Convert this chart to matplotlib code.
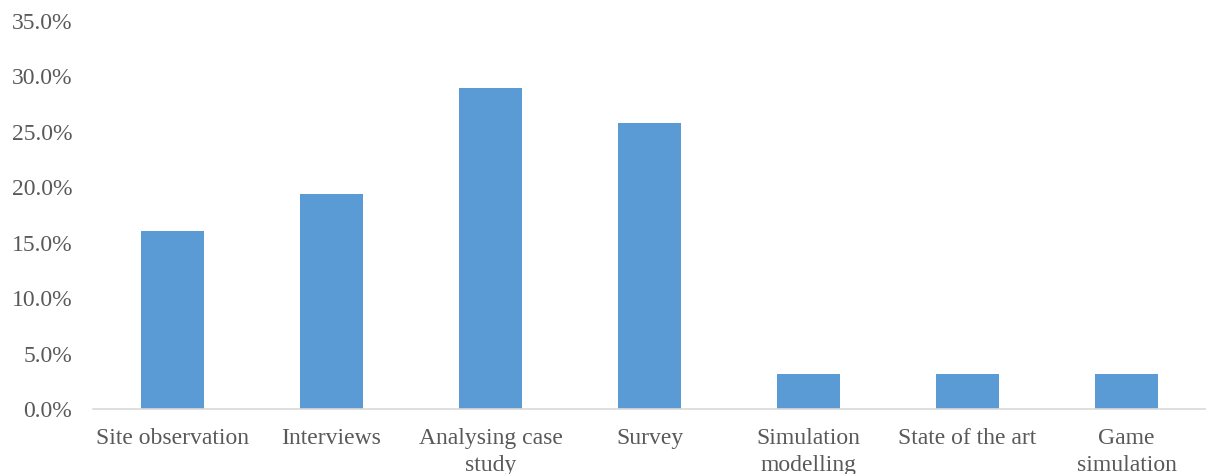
import matplotlib.pyplot as plt
from matplotlib.ticker import PercentFormatter

# Share of studies by research method
methods = ["Site observation", "Interviews", "Analysing case\nstudy", "Survey",
           "Simulation\nmodelling", "State of the art", "Game\nsimulation"]
shares = [16.1, 19.4, 29.0, 25.8, 3.2, 3.2, 3.2]
y_ticks = [0, 5, 10, 15, 20, 25, 30, 35]

plt.rcParams['font.family'] = ['Liberation Serif', 'DejaVu Serif']

fig = plt.figure(figsize=(12.06, 4.74), dpi=100)
ax = fig.add_axes([93 / 1206, 1 - 409 / 474, 1 - 93 / 1206, (409 - 21) / 474])

x = range(len(methods))
ax.bar(x, shares, width=0.4, color="#5b9bd5", zorder=2)

ax.set_xlim(-0.5, len(methods) - 0.5)
ax.set_ylim(0, 35)
ax.set_yticks(y_ticks)
ax.yaxis.set_major_formatter(PercentFormatter(decimals=1))
ax.set_xticks(list(x))
ax.set_xticklabels(methods, linespacing=1.35)

for side in ["top", "right", "left"]:
    ax.spines[side].set_visible(False)
ax.spines["bottom"].set_color("#d9d9d9")
ax.spines["bottom"].set_linewidth(1.2)

ax.tick_params(axis="both", length=0, labelsize=17, labelcolor="#595959")
ax.tick_params(axis="x", pad=14)
ax.tick_params(axis="y", pad=15)

fig.savefig("out.png", dpi=100)
